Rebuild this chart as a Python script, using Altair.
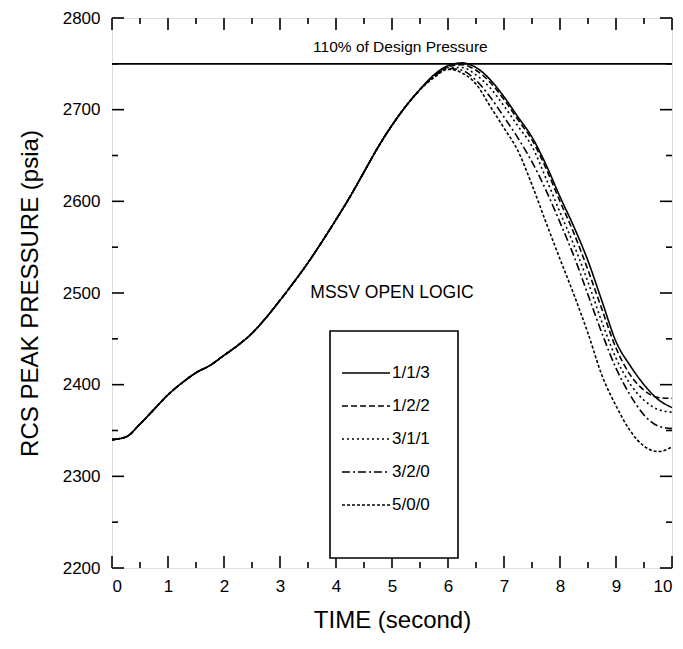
import altair as alt
import pandas as pd

# ---- data ----
rise_t = [0.0, 0.25, 0.5, 0.75, 1.0, 1.25, 1.5, 1.75, 2.0, 2.25, 2.5, 2.75,
          3.0, 3.25, 3.5, 3.75, 4.0, 4.25, 4.5, 4.75, 5.0, 5.25, 5.5]
rise_p = [2340, 2343, 2357, 2373, 2389, 2402, 2413, 2421, 2432, 2443, 2456, 2473,
          2492, 2512, 2533, 2556, 2580, 2605, 2632, 2659, 2683, 2704, 2722]

tail_t = [5.75, 6.0, 6.25, 6.5, 6.75, 7.0, 7.25, 7.5, 7.75, 8.0, 8.25, 8.5,
          8.75, 9.0, 9.25, 9.5, 9.75, 10.0]
tail_113 = [2738, 2748, 2751, 2746, 2733, 2714, 2692, 2670, 2640, 2605, 2572, 2535,
            2491, 2447, 2421, 2400, 2384, 2375]
tail_122 = [2737, 2747, 2749, 2743, 2730, 2711, 2689, 2667, 2636, 2600, 2565, 2525,
            2482, 2440, 2411, 2394, 2386, 2385]
tail_311 = [2737, 2746, 2746, 2738, 2724, 2704, 2682, 2660, 2625, 2588, 2552, 2512,
            2468, 2429, 2401, 2383, 2373, 2370]
tail_320 = [2736, 2745, 2743, 2732, 2714, 2692, 2669, 2643, 2612, 2577, 2540, 2498,
            2456, 2418, 2389, 2367, 2355, 2352]
tail_500 = [2735, 2744, 2740, 2728, 2704, 2680, 2655, 2618, 2577, 2537, 2498, 2456,
            2410, 2377, 2350, 2333, 2327, 2332]

series_names = ["1/1/3", "1/2/2", "3/1/1", "3/2/0", "5/0/0"]
series_tails = [tail_113, tail_122, tail_311, tail_320, tail_500]
dash_patterns = [[1, 0], [6, 3], [2, 3], [8, 3, 2, 3], [3, 2]]

x_major = [0, 1, 2, 3, 4, 5, 6, 7, 8, 9, 10]
x_minor = [0.5, 1.5, 2.5, 3.5, 4.5, 5.5, 6.5, 7.5, 8.5, 9.5]
y_major = [2200, 2300, 2400, 2500, 2600, 2700, 2800]
y_minor = [2250, 2350, 2450, 2550, 2650, 2750]

design_limit = [2750]
limit_label = ["110% of Design Pressure"]
logic_label = ["MSSV OPEN LOGIC"]

W, H = 560, 550
FONT = "Liberation Sans"

rows = []
for name, tail in zip(series_names, series_tails):
    for t, p in zip(rise_t + tail_t, rise_p + tail):
        rows.append({"t": t, "p": p, "series": name})
df = pd.DataFrame(rows)

xs = alt.Scale(domain=[0, 10], nice=False, zero=False)
ys = alt.Scale(domain=[2200, 2800], nice=False, zero=False)
dash_scale = alt.Scale(domain=series_names, range=dash_patterns)

lines = alt.Chart(df).mark_line(color="black", strokeWidth=1.6, interpolate="monotone").encode(
    x=alt.X("t:Q", scale=xs, axis=alt.Axis(
        values=x_major, title="TIME (second)", ticks=False, tickSize=0, domain=False,
        grid=False, labelPadding=10, labelFontSize=17, labelFont=FONT,
        labelColor="black", titleFont=FONT, titleFontSize=24, titleFontWeight="normal",
        titleColor="black", titlePadding=14)),
    y=alt.Y("p:Q", scale=ys, axis=alt.Axis(
        values=y_major, format="d", title="RCS PEAK PRESSURE (psia)", ticks=False,
        tickSize=0, domain=False, grid=False, labelPadding=12, labelFontSize=17,
        labelFont=FONT, labelColor="black", titleFont=FONT, titleFontSize=24,
        titleFontWeight="normal", titleColor="black", titlePadding=20)),
    strokeDash=alt.StrokeDash("series:N", scale=dash_scale, legend=None),
    detail="series:N",
)

limit_df = pd.DataFrame({"p": design_limit, "label": limit_label, "t": [5.15]})
limit_rule = alt.Chart(limit_df).mark_rule(color="black", strokeWidth=1.6).encode(
    y=alt.Y("p:Q", scale=ys))
limit_text = alt.Chart(limit_df).mark_text(
    font=FONT, fontSize=15.5, baseline="middle", dy=-17, color="black"
).encode(x=alt.X("t:Q", scale=xs), y=alt.Y("p:Q", scale=ys), text="label:N")

logic_df = pd.DataFrame({"t": [5], "p": [2500], "label": logic_label})
logic_text = alt.Chart(logic_df).mark_text(
    font=FONT, fontSize=17.5, baseline="middle", color="black"
).encode(x=alt.X("t:Q", scale=xs), y=alt.Y("p:Q", scale=ys), text="label:N")

# inward ticks on all four sides
def xticks(vals, length):
    d = pd.DataFrame({"t": vals})
    bottom = alt.Chart(d).mark_rule(color="black", strokeWidth=1.6).encode(
        x=alt.X("t:Q", scale=xs), y=alt.value(H), y2=alt.value(H - length))
    top = alt.Chart(d).mark_rule(color="black", strokeWidth=1.6).encode(
        x=alt.X("t:Q", scale=xs), y=alt.value(0), y2=alt.value(length))
    return [bottom, top]

def yticks(vals, length):
    d = pd.DataFrame({"p": vals})
    left = alt.Chart(d).mark_rule(color="black", strokeWidth=1.6).encode(
        y=alt.Y("p:Q", scale=ys), x=alt.value(0), x2=alt.value(length))
    right = alt.Chart(d).mark_rule(color="black", strokeWidth=1.6).encode(
        y=alt.Y("p:Q", scale=ys), x=alt.value(W), x2=alt.value(W - length))
    return [left, right]

ticks = xticks(x_major, 12) + xticks(x_minor, 6) + yticks(y_major, 12) + yticks(y_minor, 6)

# legend box drawn inside the plot
leg_df = pd.DataFrame({"series": series_names, "i": list(range(len(series_names)))})
leg_box = alt.Chart(pd.DataFrame({"a": [0]})).mark_rect(
    fill="white", stroke="black", strokeWidth=1.6
).encode(x=alt.value(218), x2=alt.value(346), y=alt.value(313), y2=alt.value(540))
leg_base = alt.Chart(leg_df).transform_calculate(py="355 + 33 * datum.i")
leg_lines = leg_base.mark_rule(color="black", strokeWidth=1.6).encode(
    x=alt.value(230), x2=alt.value(278),
    y=alt.Y("py:Q", scale=None, axis=None),
    strokeDash=alt.StrokeDash("series:N", scale=dash_scale, legend=None))
leg_text = leg_base.mark_text(
    font=FONT, fontSize=17, align="left", baseline="middle", color="black"
).encode(x=alt.value(280), y=alt.Y("py:Q", scale=None, axis=None), text="series:N")

chart = alt.layer(
    lines, limit_rule, limit_text, logic_text, *ticks, leg_box, leg_lines, leg_text
).properties(
    width=W, height=H,
    autosize=alt.AutoSizeParams(type="none"),
    padding={"left": 104, "top": 10, "right": 3, "bottom": 72},
).configure_view(stroke="black", strokeWidth=1.6).configure(background="white")

chart.save("out.html", embed_options={"renderer": "svg", "actions": False})
